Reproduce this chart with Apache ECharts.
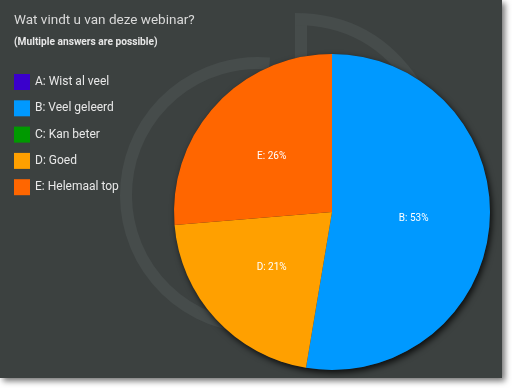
<!DOCTYPE html>
<html>
<head>
<meta charset="utf-8">
<script src="https://cdn.jsdelivr.net/npm/echarts@6/dist/echarts.min.js"></script>
<style>
html,body{margin:0;padding:0;background:#ffffff;}
#chart{width:512px;height:388px;}
</style>
</head>
<body>
<div id="chart"></div>
<script>
const titleText = 'Wat vindt u van deze webinar?';
const subtitleText = '(Multiple answers are possible)';
const categories = ['A: Wist al veel', 'B: Veel geleerd', 'C: Kan beter', 'D: Goed', 'E: Helemaal top'];
const shortNames = ['A', 'B', 'C', 'D', 'E'];
const counts = [0, 10, 0, 4, 5];
const colors = ['#3a00cc', '#0099ff', '#009900', '#ffa000', '#ff6600'];

const chart = echarts.init(document.getElementById('chart'), null, {renderer: 'canvas'});
const total = counts.reduce((a, b) => a + b, 0);

const pieData = categories.map((name, i) => ({
  name: name,
  value: counts[i],
  itemStyle: {color: colors[i]},
  label: {show: counts[i] > 0}
}));

const option = {
  animation: false,
  backgroundColor: '#ffffff',
  textStyle: {fontFamily: 'Roboto'},
  graphic: [
    {type: 'rect', z: -10, shape: {x: 0, y: 0, width: 502, height: 378},
     style: {fill: '#3c4140', shadowBlur: 6, shadowOffsetX: 3, shadowOffsetY: 3, shadowColor: 'rgba(0,0,0,0.55)'}},
    {type: 'arc', z: -9, shape: {cx: 258, cy: 195, r: 132, startAngle: -85 * Math.PI / 180, endAngle: 60 * Math.PI / 180, clockwise: false},
     style: {stroke: '#464c4b', lineWidth: 12, fill: null}},
    {type: 'polyline', z: -9, shape: {points: [[301, 90], [301, 19]]},
     style: {stroke: '#464c4b', lineWidth: 12, fill: null}},
    {type: 'bezierCurve', z: -9, shape: {x1: 295, y1: 19, cpx1: 372, cpy1: 19, x2: 415, y2: 85},
     style: {stroke: '#464c4b', lineWidth: 12, fill: null}}
  ],
  title: {
    text: titleText,
    subtext: subtitleText,
    left: 9,
    top: 9,
    itemGap: 9,
    textStyle: {color: '#d9d9d9', fontSize: 13.5, fontWeight: 'normal', fontFamily: 'Roboto'},
    subtextStyle: {color: '#e6e6e6', fontSize: 10.2, fontWeight: 'bold', fontFamily: 'Roboto'}
  },
  legend: {
    orient: 'vertical',
    left: 9,
    top: 69,
    itemWidth: 16,
    itemHeight: 16,
    itemGap: 10.3,
    icon: 'rect',
    selectedMode: false,
    data: categories,
    textStyle: {color: '#e8e8e8', fontSize: 12, fontFamily: 'Roboto'}
  },
  series: [{
    type: 'pie',
    name: 'shadow',
    center: [332, 212],
    radius: 158,
    silent: true,
    z: 1,
    label: {show: false},
    labelLine: {show: false},
    itemStyle: {color: '#2a2e2d', shadowBlur: 6, shadowOffsetX: 2, shadowOffsetY: 3, shadowColor: 'rgba(0,0,0,0.8)'},
    emphasis: {disabled: true},
    data: [{value: total, name: 'all'}]
  }, {
    type: 'pie',
    center: [332, 212],
    radius: 158,
    z: 2,
    startAngle: 90,
    clockwise: true,
    avoidLabelOverlap: false,
    stillShowZeroSum: false,
    itemStyle: {borderWidth: 0},
    label: {
      show: true,
      position: 'inside',
      color: '#ffffff',
      fontSize: 10,
      fontFamily: 'Roboto',
      formatter: function (p) {
        return shortNames[p.dataIndex] + ': ' + Math.round(p.value / total * 100) + '%';
      }
    },
    labelLine: {show: false},
    emphasis: {disabled: true},
    data: pieData
  }]
};
chart.setOption(option);
</script>
</body>
</html>
